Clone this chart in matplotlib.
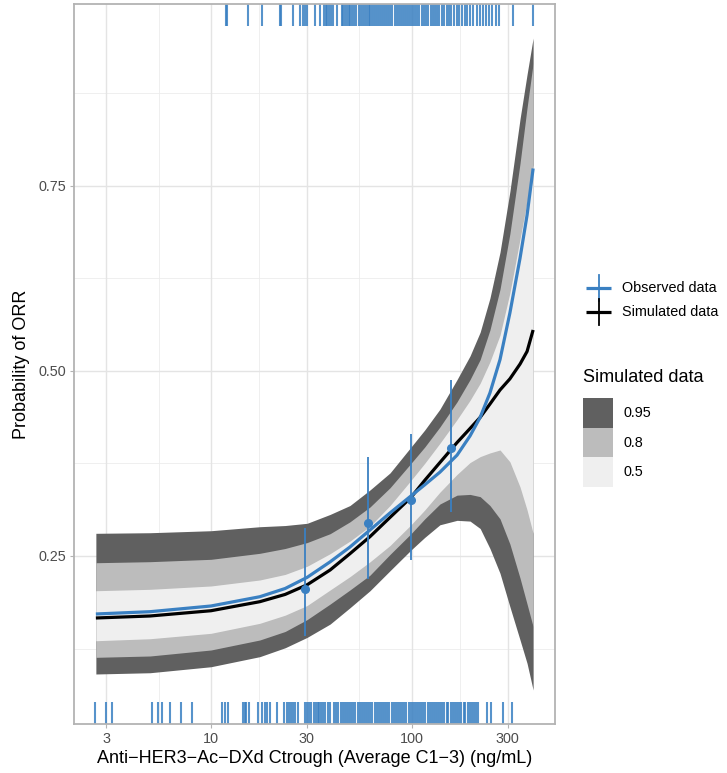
import numpy as np
import matplotlib
matplotlib.use("Agg")
import matplotlib.pyplot as plt
from matplotlib.patches import Rectangle

plt.rcParams['font.family'] = ['Liberation Sans', 'DejaVu Sans']

# ---------------- data ----------------
conc = [2.67, 4.97, 10.0, 17.5, 23.4, 30.1, 39.2, 49.2, 61.9, 77.9, 99.1, 116, 138,
        168, 195, 219, 245, 275, 308, 346, 375, 402]
q95_hi = [0.2805, 0.2813, 0.284, 0.2894, 0.291, 0.294, 0.306, 0.318, 0.339, 0.362, 0.397,
          0.42, 0.448, 0.488, 0.52, 0.552, 0.598, 0.66, 0.742, 0.840, 0.900, 0.949]
q80_hi = [0.2408, 0.2422, 0.2454, 0.2535, 0.26, 0.268, 0.28, 0.296, 0.316, 0.342, 0.375,
          0.397, 0.424, 0.458, 0.488, 0.515, 0.555, 0.61, 0.685, 0.78, 0.855, 0.915]
q50_hi = [0.203, 0.2049, 0.2094, 0.2175, 0.225, 0.236, 0.253, 0.27, 0.29, 0.318, 0.352,
          0.375, 0.402, 0.434, 0.46, 0.483, 0.512, 0.548, 0.605, 0.678, 0.728, 0.778]
sim_median = [0.1662, 0.1689, 0.176, 0.1882, 0.198, 0.211, 0.231, 0.253, 0.276, 0.302, 0.329,
              0.352, 0.376, 0.403, 0.422, 0.437, 0.455, 0.474, 0.489, 0.509, 0.526, 0.555]
q50_lo = [0.1355, 0.1382, 0.1455, 0.159, 0.17, 0.183, 0.204, 0.222, 0.242, 0.264, 0.292,
          0.312, 0.336, 0.36, 0.376, 0.384, 0.389, 0.393, 0.377, 0.343, 0.312, 0.2805]
q80_lo = [0.1131, 0.1149, 0.123, 0.1365, 0.148, 0.164, 0.185, 0.204, 0.224, 0.252, 0.28,
          0.30, 0.32, 0.332, 0.333, 0.33, 0.318, 0.30, 0.266, 0.22, 0.185, 0.1545]
q95_lo = [0.0906, 0.0923, 0.1004, 0.114, 0.126, 0.14, 0.158, 0.18, 0.203, 0.23, 0.258,
          0.275, 0.292, 0.298, 0.297, 0.287, 0.26, 0.2265, 0.1814, 0.1365, 0.105, 0.069]
obs_fit = [0.1716, 0.1747, 0.1824, 0.1949, 0.206, 0.221, 0.242, 0.262, 0.285, 0.308, 0.331,
           0.346, 0.363, 0.386, 0.412, 0.437, 0.47, 0.515, 0.578, 0.652, 0.71, 0.773]

obs_conc = [29.4, 60.4, 99.4, 156]
obs_prob = [0.206, 0.294, 0.325, 0.3955]
obs_lo = [0.142, 0.219, 0.244, 0.309]
obs_hi = [0.288, 0.384, 0.414, 0.487]

rug_top = [11.9, 12.0, 15.3, 17.9, 22.0, 22.2, 25.6, 27.8, 28.6, 29.4, 30.1, 32.9, 34.9,
           36.5, 37.2, 38.0, 38.8, 39.7, 40.5, 42.5, 44.7, 45.6, 46.6, 47.5, 48.5, 49.5,
           50.5, 51.6, 52.7, 54.8, 56.0, 57.2, 58.4, 59.6, 60.9, 62.2, 63.5, 64.9, 66.2,
           68.0, 69.4, 71.3, 72.8, 74.3, 76.0, 78.0, 80.0, 82.0, 84.0, 86.0, 88.0, 90.0,
           92.0, 94.5, 96.8, 99.0, 101.5, 104, 106.5, 109, 112, 115, 118, 121, 124, 127,
           130, 134, 137, 141, 145, 149, 153, 157, 162, 167, 172, 177, 183, 189, 195, 202,
           210, 218, 226, 234, 243, 252, 262, 272, 319, 401]
rug_bottom = [2.64, 3.0, 3.2, 5.1, 5.45, 5.7, 6.25, 7.1, 8.0, 11.3, 11.7, 12.1, 14.4, 14.7,
              15.0, 15.4, 17.1, 17.9, 18.5, 19.0, 19.7, 21.3, 23.2, 23.8, 24.4, 25.0, 25.6,
              26.3, 27.0, 29.5, 30.2, 30.9, 31.6, 32.4, 33.2, 34.0, 34.6, 35.5, 36.3, 37.0,
              38.2, 39.1, 41.0, 42.1, 43.0, 44.2, 45.3, 46.4, 47.5, 48.7, 50.0, 51.1, 52.4,
              53.7, 55.0, 56.4, 57.8, 59.2, 60.6, 62.1, 63.7, 65.2, 66.8, 68.5, 70.2, 71.9,
              73.7, 75.5, 77.4, 79.3, 81.2, 83.2, 85.3, 87.4, 89.5, 91.7, 94.0, 96.3, 98.7,
              101, 104, 106, 109, 111, 114, 117, 120, 123, 126, 129, 132, 135, 138, 142, 145,
              149, 152, 156, 160, 164, 168, 172, 176, 181, 185, 190, 194, 199, 204, 209, 214,
              237, 248, 285, 316]

x_ticks = [3, 10, 30, 100, 300]
x_ticklabels = ["3", "10", "30", "100", "300"]
x_minor = [5.477, 17.32, 54.77, 173.2]
y_ticks = [0.25, 0.50, 0.75]
y_ticklabels = ["0.25", "0.50", "0.75"]
y_minor = [0.125, 0.375, 0.625, 0.875]
band_levels = ["0.95", "0.8", "0.5"]

# ---------------- style ----------------
BLUE = '#3A80C2'
C95, C80, C50 = '#606060', '#bcbcbc', '#efefef'
W, H = 727, 773

fig = plt.figure(figsize=(W / 100, H / 100), dpi=100)
ax = fig.add_axes([74.3 / W, 1 - 724 / H, (555 - 74.3) / W, 720 / H])
ax.set_xscale('log')
ax.set_xlim(2.085, 516.6)
ax.set_ylim(0.0231, 0.995)

# grid
for v in x_minor:
    ax.axvline(v, color='#ececec', lw=0.6, zorder=0)
for v in y_minor:
    ax.axhline(v, color='#ececec', lw=0.6, zorder=0)
for v in x_ticks:
    ax.axvline(v, color='#e4e4e4', lw=1.0, zorder=0)
for v in y_ticks:
    ax.axhline(v, color='#e4e4e4', lw=1.0, zorder=0)

# bands
ax.fill_between(conc, q95_lo, q95_hi, color=C95, lw=0, zorder=1)
ax.fill_between(conc, q80_lo, q80_hi, color=C80, lw=0, zorder=2)
ax.fill_between(conc, q50_lo, q50_hi, color=C50, lw=0, zorder=3)

ax.plot(conc, sim_median, color='black', lw=2.3, zorder=4, solid_capstyle='butt',
        solid_joinstyle='round')
ax.plot(conc, obs_fit, color=BLUE, lw=2.3, zorder=5, solid_capstyle='butt',
        solid_joinstyle='round')

ax.vlines(obs_conc, obs_lo, obs_hi, color=BLUE, lw=1.3, zorder=6)
ax.plot(obs_conc, obs_prob, 'o', color=BLUE, ms=5.5, zorder=7)

# rugs
xt = ax.get_xaxis_transform()
ax.vlines(rug_bottom, 0, 0.03, transform=xt, color=BLUE, lw=1.5, alpha=0.85, zorder=6)
ax.vlines(rug_top, 0.97, 1.0, transform=xt, color=BLUE, lw=1.5, alpha=0.85, zorder=6)

# axes styling
ax.set_xticks(x_ticks)
ax.set_xticklabels(x_ticklabels)
ax.set_xticks([], minor=True)
ax.set_yticks(y_ticks)
ax.set_yticklabels(y_ticklabels)
ax.tick_params(axis='both', which='major', length=3.2, width=0.8, color='#b3b3b3',
               labelsize=10.4, labelcolor='#4d4d4d', pad=2.6)
for s in ax.spines.values():
    s.set_color('#b3b3b3')
    s.set_linewidth(1.3)
    s.set_zorder(10)

ax.set_xlabel("Anti\u2212HER3\u2212Ac\u2212DXd Ctrough (Average C1\u22123) (ng/mL)", fontsize=13, labelpad=3)
ax.set_ylabel("Probability of ORR", fontsize=13, labelpad=6)

# ---------------- legends (drawn in pixel space) ----------------
lax = fig.add_axes([0, 0, 1, 1], zorder=-1)
lax.set_xlim(0, W)
lax.set_ylim(H, 0)
lax.axis('off')

lax.plot([586, 611], [288, 288], color=BLUE, lw=2.3, solid_capstyle='butt')
lax.plot([598.5, 598.5], [275, 301], color=BLUE, lw=1.3)
lax.text(622, 288, "Observed data", fontsize=10.4, va='center', ha='left', color='black')
lax.plot([586, 611], [312, 312], color='black', lw=2.3, solid_capstyle='butt')
lax.plot([598.5, 598.5], [299, 325], color='black', lw=1.3)
lax.text(622, 312, "Simulated data", fontsize=10.4, va='center', ha='left', color='black')

lax.text(583, 378, "Simulated data", fontsize=13, va='center', ha='left', color='black')
box_cols = [C95, C80, C50]
for i, (lab, c) in enumerate(zip(band_levels, box_cols)):
    y0 = 398.3 + i * 29.5
    lax.add_patch(Rectangle((583, y0), 30, 29.5, facecolor=c, edgecolor='none'))
    lax.text(623, y0 + 14.75, lab, fontsize=10.4, va='center', ha='left', color='black')

fig.savefig('out.png', dpi=100)
